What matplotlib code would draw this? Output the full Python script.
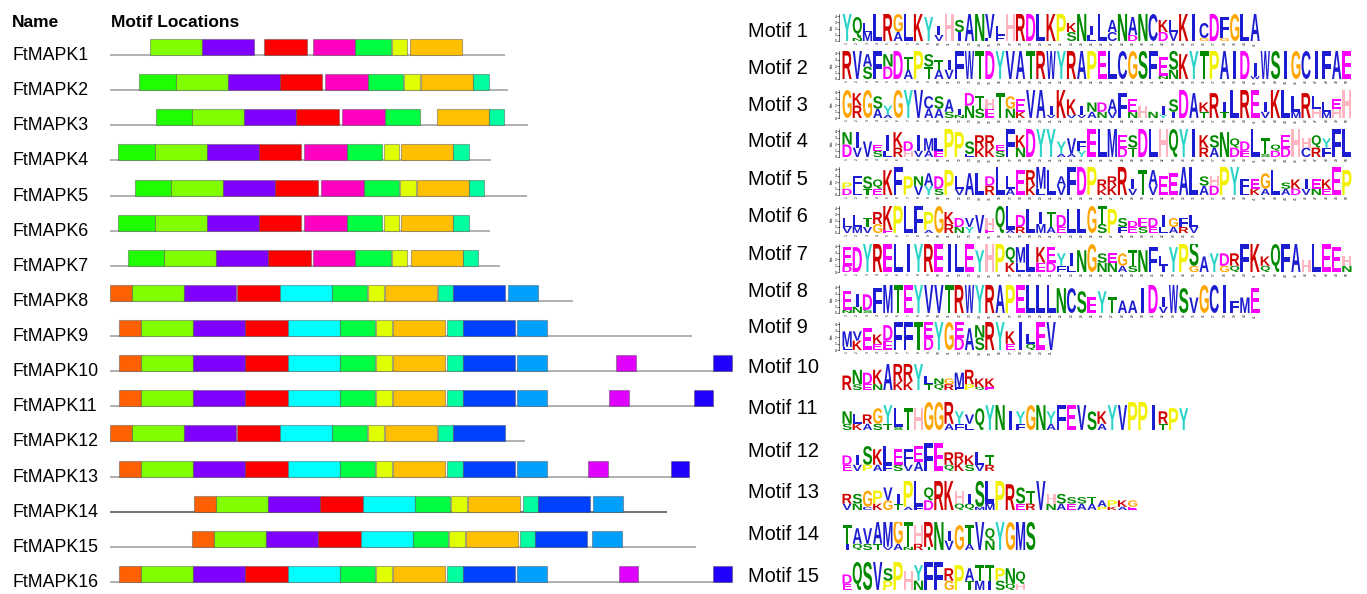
import re
import matplotlib.pyplot as plt
from matplotlib.patches import Rectangle, PathPatch
from matplotlib.textpath import TextPath
from matplotlib.font_manager import FontProperties
from matplotlib.transforms import Affine2D

plt.rcParams["font.family"] = ["Liberation Sans", "DejaVu Sans"]

W, H = 1367, 594

# 蛋白名称与长度 (aa)
names = ["FtMAPK%d" % i for i in range(1, 17)]
lengths = [380, 383, 402, 366, 401, 365, 375, 445, 560, 598, 581, 399, 558, 536, 563, 598]

# 每个蛋白上的 motif: (motif 编号, 起始位置)
sites = [
    [(3, 38), (4, 88), (1, 148), (8, 195), (11, 236), (10, 271), (5, 288)],
    [(6, 28), (3, 63), (4, 113), (1, 163), (8, 207), (11, 248), (10, 283), (5, 299), (12, 349)],
    [(6, 44), (3, 79), (4, 129), (1, 179), (8, 223), (11, 264), (5, 314), (12, 364)],
    [(6, 8), (3, 43), (4, 93), (1, 143), (8, 187), (11, 228), (10, 263), (5, 280), (12, 330)],
    [(6, 24), (3, 59), (4, 109), (1, 159), (8, 203), (11, 244), (10, 279), (5, 295), (12, 345)],
    [(6, 8), (3, 43), (4, 93), (1, 143), (8, 187), (11, 228), (10, 263), (5, 280), (12, 330)],
    [(6, 17), (3, 52), (4, 102), (1, 152), (8, 195), (11, 236), (10, 271), (5, 289), (12, 339)],
    [(9, 0), (3, 21), (4, 71), (1, 122), (2, 163), (11, 213), (10, 248), (5, 264), (12, 315), (7, 330), (13, 383)],
    [(9, 9), (3, 30), (4, 80), (1, 130), (2, 171), (11, 221), (10, 256), (5, 272), (12, 324), (7, 339), (13, 391)],
    [(9, 9), (3, 30), (4, 80), (1, 130), (2, 171), (11, 221), (10, 256), (5, 272), (12, 324), (7, 339), (13, 391),
     (14, 487), (15, 580)],
    [(9, 9), (3, 30), (4, 80), (1, 130), (2, 171), (11, 221), (10, 256), (5, 272), (12, 324), (7, 339), (13, 391),
     (14, 480), (15, 562)],
    [(9, 0), (3, 21), (4, 71), (1, 122), (2, 163), (11, 213), (10, 248), (5, 264), (12, 315), (7, 330)],
    [(9, 9), (3, 30), (4, 80), (1, 130), (2, 171), (11, 221), (10, 256), (5, 272), (12, 324), (7, 339), (13, 391),
     (14, 460), (15, 539)],
    [(9, 81), (3, 102), (4, 152), (1, 202), (2, 243), (11, 293), (10, 328), (5, 344), (12, 397), (7, 412), (13, 464)],
    [(9, 79), (3, 100), (4, 150), (1, 200), (2, 241), (11, 291), (10, 326), (5, 342), (12, 394), (7, 409), (13, 463)],
    [(9, 9), (3, 30), (4, 80), (1, 130), (2, 171), (11, 221), (10, 256), (5, 272), (12, 324), (7, 339), (13, 391),
     (14, 489), (15, 580)],
]

motif_colors = ["#ff0000", "#00ffff", "#80ff00", "#8000ff", "#ffc000", "#20ff00", "#0040ff", "#ff00c0",
                "#ff6000", "#e0ff00", "#00ff40", "#00ff9f", "#00a0ff", "#e000ff", "#2000ff"]

# motif logo: 每列 字母+高度(0-9), 上面的字母出现频率高
logos = [
    "Y9 Q7N1 L3M3 L9 R9 G6A3 L9 K9 Y8 I3V2 H9 S4I3 A9 N9 V8L1 L3F2 H9 R9 D9 L9 K9 P9 K3S3 N9 I3L2 L9 "
    "A4C3 N9 A6D2 N9 C9 K4D3 L4V3 K9 I9 C5G1 D9 F7G1 G9 L9 A9",
    "R9 V9 A4S4 F9 N4D4 D9 T4A3 P9 S4T4 T3A3 I3V3 F9 W9 T9 D9 Y9 V9 A9 T9 R9 W9 Y9 R9 A9 P9 E9 L9 C9 "
    "G9 S9 F9 E6N1 S6N3 K8 Y9 T9 P9 A9 I9 D9 I4W1 W9 S9 I9 G9 C9 I9 F9 A9 E9",
    "G9 K4R4 G9 S4A3 Y3A1 G9 Y9 V9 C4A3 S4A3 A4S2 I2N1 D4N4 T4S3 H3E3 T8 G4N3 E4K2 V9 A9 I3V1 K9 K5V1 "
    "I3V1 N3A2 D3N2 A4V2 F8 E4N2 H4 N2 I3Y1 S4I2 D9 A8 K3T2 R8 I3T2 L9 R9 E9 I3V2 K9 L9 L5M2 R8 L4H3 "
    "L3M2 E3H3 H9",
    "N4D4 I5V3 V5 E2S2 I5L2 K5R3 D3H2 I5V2 M4A2 L4E2 P9 P8 S4L1 R4K3 R4K3 E2S2 F9 K4N3 D9 Y9 Y9 Y4A1 "
    "V5A1 F3Y2 E9 L9 M9 E4D3 S4T3 D9 L9 H9 Q9 Y9 I9 K4R3 S4A3 N8 Q3D3 D3E2 L9 T5S1 Q2D2 E4D3 H9 H3C3 "
    "Q4R3 Y3F3 F9 L9",
    "P2D2 F4L2 S4T2 Q3E2 K8 F9 P6 N3V3 A4Y3 D4S2 P8 L4V2 A7 L7 D3R3 L9 L4A2 E8 R5K3 M7L2 L8 A3V3 F9 "
    "D9 P9 R3K2 R3K3 R9 I3V2 T8 A5V3 E6 E7 A9 L9 S3A3 H3D3 P9 Y9 F4L1 E3K2 G5A2 L8 S2A2 K3D2 I3V2 "
    "E3N2 K3E2 E9 P8",
    "L3V2 L4M2 T3V2 R4G3 K8E1 P9 L9 F9 P6A1 G9 K4R3 D3N2 V3Y2 V6 H4E1 Q9 L8A1 D4R2 L8 I4M3 T5A2 D4E2 "
    "L8 L8 G9 T6S3 P8 S3F2 D2E2 E3S2 D3E2 I4L2 G3A2 F3R2 L4V2",
    "E6D2 D8 Y9 R9 E9 L9 I9 Y9 R9 E9 I9 L9 E9 Y7 H9 P9 Q5K3 M5L3 L9 K5E3 E5D3 Y4F2 I4L2 N7 G9 S3N3 "
    "E3N3 G4A2 T5S2 N7 F8 L3I2 Y8 P9 S8G2 A5 Y6 D4G2 R4Q2 F9 K9 K3Q2 Q9 F9 A9 H4 L9 E9 E8 H3N2",
    "E6N1 I4N2 D5S1 F8 M9 T9 E9 Y9 V9 V9 T9 R9 W9 Y9 R9 A9 P9 E9 L9 L9 L9 N8 C8 S7 E5 Y7 T5 A4 A4 I8 "
    "D9 I3V2 W9 S8 V5 G9 C9 I9 F4 M5 E8",
    "M5L1 V3K3 E7 K3E2 D5E3 F9 F9 T9 E5D4 Y9 G9 E5D4 A7 N4S4 R9 Y9 K4E2 I9 L3Q2 E9 V9",
    "R5 N5S2 D4E2 K5N2 A9 R6K3 R6K3 Y9 L3T2 N2Q2 G2R2 M5F1 R5P2 K3Q1 K3E1",
    "N4S2 L3K2 R3A2 G5S2 Y6T2 L6S1 T7 H7 G9 G9 R7A2 Y4F2 V3L2 Q7 Y8 N8 I6 Y4F2 G8 N8 Y4A2 F8 E8 V8 "
    "S6 K4A2 Y8 V8 P9 P9 I8 R4T2 P7 Y7",
    "D3E2 I3V2 S6P2 K5A2 L6F2 E5S2 F5V2 E5A3 F9 E9 R4Q2 R3K3 K3S2 L4V2 T3R2",
    "R3V2 S3N2 G5C1 P4K2 V4G3 I3T2 P8A1 L8F1 Q4D3 R9 K9 H4Q2 I3Q2 S8M1 L8M2 P9 R8 S5E2 T4R2 V9 H3N2 "
    "S3A2 S2E2 S2A2 T2A2 A2P1 P2K1 K2A1 G2E1",
    "T6I2 A5Q2 V5S2 A7T2 M8V1 G8A2 T8N1 H6R2 R8T1 N9 I3V3 G8 T6A2 V9 Q4N3 Y9 G9 M9 S9",
    "D3E2 Q9 S9 V9 S4P3 P9 H6 Y5N3 F9 F9 R4G3 P8 A4T3 T5M3 T5I3 P4S3 N5Q2 Q4H2",
]

# MEME 氨基酸配色
aa_colors = {}
for aa in "ACFILMVW":
    aa_colors[aa] = "#1c1cd0"
for aa in "NQST":
    aa_colors[aa] = "#008a00"
for aa in "DE":
    aa_colors[aa] = "#ff00ff"
for aa in "KR":
    aa_colors[aa] = "#d00000"
aa_colors.update({"H": "#ffb6c1", "G": "#ffa500", "P": "#f2f200", "Y": "#2ad4c8"})

logo_cols = [[[(a, int(h)) for a, h in re.findall(r"([A-Z])(\d)", tok)] for tok in s.split()] for s in logos]
motif_width = [len(c) for c in logo_cols]


def px_rect(x0, y0, x1, y1):
    return [x0 / W, 1 - y1 / H, (x1 - x0) / W, (y1 - y0) / H]


fig = plt.figure(figsize=(W / 100, H / 100), dpi=100)

# ---------- 左: motif 分布 ----------
PX_PER_AA = 1.04
ROW_STEP = 35.13
ax = fig.add_axes(px_rect(110, 55 - 0.8 * ROW_STEP, 740, 582 + 0.3 * ROW_STEP))
ax.set_xlim(0, 630 / PX_PER_AA)
ax.set_ylim(15.3, -0.8)
ax.axis("off")

box_h = 16 / ROW_STEP
for i, (name, L, row) in enumerate(zip(names, lengths, sites)):
    line_c = "#5c5c5c" if i == 13 else "#a3a3a3"
    ax.plot([0, L], [i, i], color=line_c, lw=1.2, zorder=1, solid_capstyle="butt")
    for m, s in row:
        ax.add_patch(Rectangle((s, i - box_h), motif_width[m - 1], box_h,
                               facecolor=motif_colors[m - 1], edgecolor=(0.3, 0.3, 0.3, 0.45),
                               lw=0.8, zorder=2))
    ax.text(-98 / PX_PER_AA, i + 5 / ROW_STEP, name, fontsize=12.8, va="baseline", ha="left",
            clip_on=False)

fig.text(12 / W, 1 - 27 / H, "Name", fontsize=12.5, fontweight="bold", va="baseline")
fig.text(111 / W, 1 - 27 / H, "Motif Locations", fontsize=12.5, fontweight="bold", va="baseline")

# ---------- 右: motif logo ----------
label_base = [37, 74, 111, 147, 185, 222, 260, 297, 333, 373, 414, 457, 498, 540, 582]
logo_top = [14, 51, 90, 129, 167, 206, 244, 285, 322, 364, 402, 443, 481, 522, 562]
logo_bottom = [41, 79, 118, 157, 195, 233, 272, 313, 350, 390, 430, 471, 510, 550, 590]
COL_PX = 10.2
BITS_PER_STEP = 4.32 / 9

logo_font = FontProperties(family="Liberation Sans", weight="bold")
glyphs = {}
# 窄字母不拉满整列
letter_frac = {"I": 0.32}


def draw_letter(a, ch, x, y, w, h, color):
    if ch not in glyphs:
        glyphs[ch] = TextPath((0, 0), ch, size=1, prop=logo_font)
    tp = glyphs[ch]
    bb = tp.get_extents()
    lw_ = w * letter_frac.get(ch, 1.0)
    x += (w - lw_) / 2
    t = Affine2D().translate(-bb.x0, -bb.y0).scale(lw_ / bb.width, h / bb.height).translate(x, y)
    a.add_patch(PathPatch(t.transform_path(tp), facecolor=color, edgecolor="none"))


for k, cols in enumerate(logo_cols):
    fig.text(748 / W, 1 - label_base[k] / H, "Motif %d" % (k + 1), fontsize=14.4, va="baseline")
    la = fig.add_axes(px_rect(842, logo_top[k], 842 + 50 * COL_PX, logo_bottom[k]))
    la.set_xlim(0, 50)
    la.set_ylim(0, 4.32)
    for j, stack in enumerate(cols):
        y = 0
        for aa, hgt in reversed(stack):
            h = hgt * BITS_PER_STEP
            draw_letter(la, aa, j + 0.05, y, 0.9, h, aa_colors[aa])
            y += h
    if k < 9:
        for sp in ["top", "right", "bottom"]:
            la.spines[sp].set_visible(False)
        la.spines["left"].set_linewidth(0.4)
        la.spines["left"].set_position(("outward", 2))
        la.set_yticks([0, 1, 2, 3, 4])
        la.tick_params(axis="y", labelsize=2.5, length=1.2, width=0.4, pad=0.5)
        la.set_ylabel("bits", fontsize=2.5, labelpad=0.5)
        la.set_xticks([j + 0.5 for j in range(len(cols))])
        la.set_xticklabels([str(j + 1) for j in range(len(cols))], fontsize=2.3, rotation=90)
        la.tick_params(axis="x", length=0, pad=0.6)
    else:
        la.axis("off")
    la.patch.set_alpha(0)

fig.savefig("out.png", dpi=100)
